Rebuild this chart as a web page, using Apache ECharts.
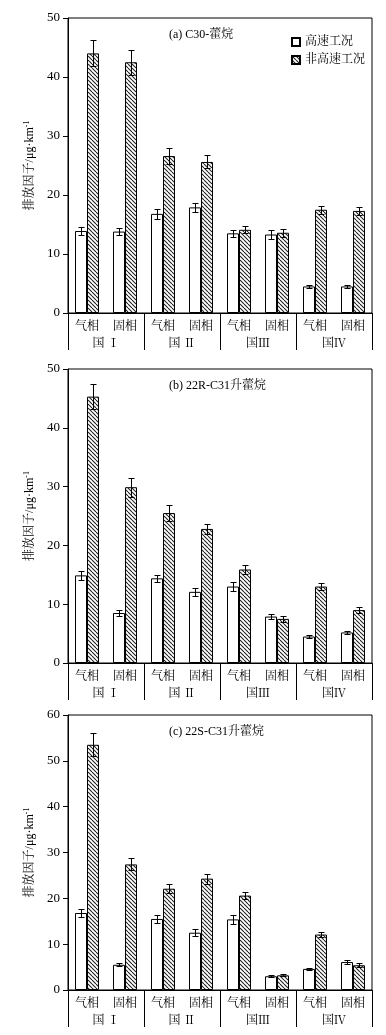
<!DOCTYPE html>
<html>
<head>
<meta charset="utf-8">
<script src="https://cdn.jsdelivr.net/npm/echarts@6/dist/echarts.min.js"></script>
<style>
html,body{margin:0;padding:0;background:#fff;}
#chart{width:386px;height:1035px;}
</style>
</head>
<body>
<div id="chart"></div>
<script>
// ---- data ----
var phaseLabels = ['气相', '固相', '气相', '固相', '气相', '固相', '气相', '固相'];
var groupLabels = ['国 Ⅰ', '国 Ⅱ', '国Ⅲ', '国Ⅳ'];
var seriesNames = ['高速工况', '非高速工况'];
var panelTitles = ['(a) C30-藿烷', '(b) 22R-C31升藿烷', '(c) 22S-C31升藿烷'];
var yMaxes = [50, 50, 60];

var aHigh = [13.9, 13.8, 16.8, 17.9, 13.5, 13.3, 4.5, 4.5];
var aHighErr = [0.6, 0.6, 0.9, 0.8, 0.6, 0.7, 0.2, 0.2];
var aLow = [44.0, 42.5, 26.6, 25.6, 14.1, 13.6, 17.5, 17.3];
var aLowErr = [2.2, 2.1, 1.3, 1.1, 0.6, 0.7, 0.7, 0.7];

var bHigh = [14.9, 8.5, 14.4, 12.1, 13.0, 7.9, 4.5, 5.2];
var bHighErr = [0.7, 0.5, 0.6, 0.7, 0.7, 0.4, 0.3, 0.2];
var bLow = [45.3, 29.9, 25.5, 22.8, 15.9, 7.5, 13.0, 9.0];
var bLowErr = [2.1, 1.6, 1.3, 0.9, 0.8, 0.5, 0.6, 0.5];

var cHigh = [16.8, 5.5, 15.5, 12.5, 15.4, 3.0, 4.6, 6.1];
var cHighErr = [0.8, 0.3, 0.9, 0.8, 0.9, 0.2, 0.2, 0.4];
var cLow = [53.5, 27.4, 22.1, 24.3, 20.6, 3.2, 12.1, 5.4];
var cLowErr = [2.5, 1.3, 1.0, 1.1, 0.8, 0.2, 0.6, 0.4];

var panels = [
  {high: aHigh, highErr: aHighErr, low: aLow, lowErr: aLowErr},
  {high: bHigh, highErr: bHighErr, low: bLow, lowErr: bLowErr},
  {high: cHigh, highErr: cHighErr, low: cLow, lowErr: cLowErr}
];

// ---- styling ----
var FONT = "'Liberation Serif', 'Noto Serif CJK SC', 'Noto Sans CJK SC', serif";
var gridTops = [18, 369, 715];
var gridHeights = [295, 294, 275];

function hatchPattern() {
  var s = 4;
  var c = document.createElement('canvas');
  c.width = s; c.height = s;
  var ctx = c.getContext('2d');
  ctx.fillStyle = '#ffffff';
  ctx.fillRect(0, 0, s, s);
  ctx.strokeStyle = '#222222';
  ctx.lineWidth = 1.1;
  for (var k = -1; k <= 1; k++) {
    ctx.beginPath();
    ctx.moveTo(k * s, 0);
    ctx.lineTo(k * s + s, s);
    ctx.stroke();
  }
  return {image: c, repeat: 'repeat'};
}
var hatch = hatchPattern();

var grids = [], xAxes = [], yAxes = [], series = [], titles = [];
var BAR_W = 12;

function errRender(offset) {
  return function (params, api) {
    var x = api.value(0), v = api.value(1), e = api.value(2);
    var c = api.coord([x, v]);
    var t = api.coord([x, v + e]);
    var b = api.coord([x, v - e]);
    var cx = Math.round(c[0] + offset) + 0.5;
    var ty = Math.round(t[1]) + 0.5, by = Math.round(b[1]) + 0.5;
    var st = {stroke: '#000', lineWidth: 1};
    return {
      type: 'group',
      children: [
        {type: 'line', shape: {x1: cx, y1: ty, x2: cx, y2: by}, style: st},
        {type: 'line', shape: {x1: cx - 3, y1: ty, x2: cx + 3, y2: ty}, style: st},
        {type: 'line', shape: {x1: cx - 3, y1: by, x2: cx + 3, y2: by}, style: st}
      ]
    };
  };
}

panels.forEach(function (p, i) {
  grids.push({left: 68, right: 14, top: gridTops[i], height: gridHeights[i],
    show: true, borderColor: '#000', borderWidth: 1, backgroundColor: 'transparent'});
  xAxes.push({
    type: 'category', gridIndex: i, data: phaseLabels, position: 'bottom',
    axisLine: {show: true, lineStyle: {color: '#000', width: 1}},
    axisTick: {show: false},
    axisLabel: {color: '#000', fontFamily: FONT, fontSize: 12, margin: 8}
  });
  xAxes.push({
    type: 'category', gridIndex: i, data: groupLabels, position: 'bottom',
    axisLine: {show: false},
    axisTick: {show: true, length: 37, lineStyle: {color: '#000', width: 1}},
    axisLabel: {color: '#000', fontFamily: FONT, fontSize: 12, margin: 25}
  });
  yAxes.push({
    type: 'value', gridIndex: i, min: 0, max: yMaxes[i], interval: 10,
    name: '排放因子/μg·km{sup|-1}', nameLocation: 'middle', nameGap: 31,
    nameTextStyle: {color: '#000', fontFamily: FONT, fontSize: 12,
      rich: {sup: {fontSize: 8, verticalAlign: 'top', padding: [0, 0, 6, 0], fontFamily: FONT}}},
    axisLine: {show: true, lineStyle: {color: '#000', width: 1}},
    axisTick: {show: true, inside: false, length: 5, lineStyle: {color: '#000'}},
    axisLabel: {color: '#000', fontFamily: FONT, fontSize: 13, margin: 8},
    splitLine: {show: false}
  });
  titles.push({text: panelTitles[i], left: 164, top: gridTops[i] + 6,
    textStyle: {fontFamily: FONT, fontSize: 12, fontWeight: 'normal', color: '#000'}});

  var xi = i * 2;
  series.push({
    name: seriesNames[0], type: 'bar', xAxisIndex: xi, yAxisIndex: i,
    data: p.high, barWidth: BAR_W, barGap: '0%',
    itemStyle: {color: '#ffffff', borderColor: '#000', borderWidth: 1},
    emphasis: {disabled: true}, animation: false
  });
  series.push({
    name: seriesNames[1], type: 'bar', xAxisIndex: xi, yAxisIndex: i,
    data: p.low, barWidth: BAR_W, barGap: '0%',
    itemStyle: {color: hatch, borderColor: '#000', borderWidth: 1},
    emphasis: {disabled: true}, animation: false
  });
  series.push({
    type: 'custom', xAxisIndex: xi, yAxisIndex: i, z: 10,
    renderItem: errRender(-BAR_W / 2),
    data: p.high.map(function (v, k) { return [k, v, p.highErr[k]]; }),
    encode: {x: 0, y: 1}, animation: false, silent: true
  });
  series.push({
    type: 'custom', xAxisIndex: xi, yAxisIndex: i, z: 10,
    renderItem: errRender(BAR_W / 2),
    data: p.low.map(function (v, k) { return [k, v, p.lowErr[k]]; }),
    encode: {x: 0, y: 1}, animation: false, silent: true
  });
});

var chart = echarts.init(document.getElementById('chart'), null, {renderer: 'canvas'});
chart.setOption({
  backgroundColor: '#fff',
  animation: false,
  title: titles,
  legend: {
    data: seriesNames, orient: 'vertical', left: 286, top: 31,
    itemWidth: 8, itemHeight: 8, itemGap: 6, icon: 'rect',
    textStyle: {fontFamily: FONT, fontSize: 12, color: '#000'}
  },
  grid: grids,
  xAxis: xAxes,
  yAxis: yAxes,
  series: series
});
</script>
</body>
</html>
